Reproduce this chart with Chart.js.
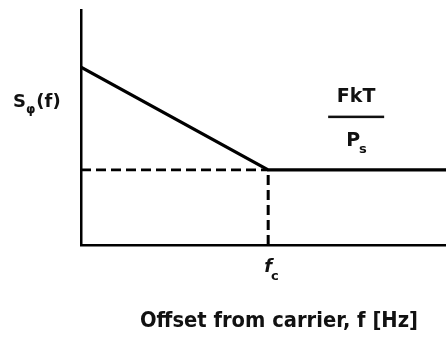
<!DOCTYPE html>
<html>
<head>
<meta charset="utf-8">
<script src="https://cdn.jsdelivr.net/npm/chart.js@4/dist/chart.umd.min.js"></script>
<style>
  html, body { margin: 0; padding: 0; background: #fff; }
  #wrap { width: 446px; height: 343px; position: relative; }
</style>
</head>
<body>
<div id="wrap"><canvas id="c"></canvas></div>
<script>
// Phase-noise spectral density sketch: falls linearly to the corner
// frequency f_c, then flat at the thermal floor FkT/Ps.
const offsetFreq = [0, 1, 1.95];          // offset from carrier, in units of f_c
const phaseNoise = [2.37, 1, 1];          // S_phi(f), relative
const floorFreq = [0, 1];                 // dashed extension of the floor
const floorLevel = [1, 1];
const cornerFreq = [1, 1];                // dashed drop at f_c
const cornerLevel = [0, 1];
const xTicks = [1];
const xTickLabels = ['f', 'c'];           // f with subscript c
const xMax = 1.95;
const yMax = 3.13;

const toPts = (xs, ys) => xs.map((x, i) => ({ x: x, y: ys[i] }));

const labelPlugin = {
  id: 'sketchLabels',
  afterDraw(chart) {
    const { ctx, scales } = chart;
    const xs = scales.x, ys = scales.y;
    ctx.save();
    ctx.fillStyle = '#111';
    ctx.textBaseline = 'alphabetic';

    // y-axis label S_phi(f)
    ctx.textAlign = 'left';
    ctx.font = 'bold 18px "DejaVu Sans"';
    let x0 = 13, by = 107;
    ctx.fillText('S', x0, by);
    x0 += ctx.measureText('S').width;
    ctx.font = 'bold 12px "DejaVu Sans"';
    ctx.fillText('φ', x0, by + 6);
    x0 += ctx.measureText('φ').width + 1;
    ctx.font = 'bold 18px "DejaVu Sans"';
    ctx.fillText('(f)', x0, by);

    // x tick label f_c
    xTicks.forEach(v => {
      const px = xs.getPixelForValue(v);
      ctx.font = 'italic bold 18px "DejaVu Sans"';
      ctx.textAlign = 'left';
      const w = ctx.measureText(xTickLabels[0]).width;
      ctx.fillText(xTickLabels[0], px - 4, 272);
      ctx.font = 'bold 13px "DejaVu Sans"';
      ctx.fillText(xTickLabels[1], px - 4 + w - 1, 280);
    });

    // floor level annotation FkT / Ps
    const fx = xs.getPixelForValue(1.47);
    const fy = ys.getPixelForValue(1.71);
    ctx.textAlign = 'center';
    ctx.font = 'bold 19px "DejaVu Sans"';
    ctx.fillText('FkT', fx, fy - 15);
    ctx.fillRect(fx - 28, fy - 1, 56, 2.5);
    ctx.textAlign = 'left';
    ctx.font = 'bold 19px "DejaVu Sans"';
    const pw = ctx.measureText('P').width;
    ctx.fillText('P', fx - 10, fy + 29);
    ctx.font = 'bold 13px "DejaVu Sans"';
    ctx.fillText('s', fx - 10 + pw - 1, fy + 36);

    // x-axis title
    const title = 'Offset from carrier, f [Hz]';
    ctx.font = 'bold 21px "DejaVu Sans"';
    const tw = ctx.measureText(title).width;
    const target = 278;
    ctx.translate(140, 327);
    ctx.scale(target / tw, 1);
    ctx.textAlign = 'left';
    ctx.fillText(title, 0, 0);
    ctx.restore();
  }
};

new Chart(document.getElementById('c'), {
  type: 'line',
  data: {
    datasets: [
      {
        data: toPts(offsetFreq, phaseNoise),
        borderColor: '#000', borderWidth: 3.2,
        pointRadius: 0, tension: 0
      },
      {
        data: toPts(floorFreq, floorLevel),
        borderColor: '#000', borderWidth: 2.6, borderDash: [10, 5],
        pointRadius: 0, tension: 0
      },
      {
        data: toPts(cornerFreq, cornerLevel),
        borderColor: '#000', borderWidth: 3, borderDash: [10, 5],
        pointRadius: 0, tension: 0
      }
    ]
  },
  options: {
    responsive: true,
    maintainAspectRatio: false,
    animation: false,
    layout: { padding: { left: 81, top: 10, right: 0, bottom: 98 } },
    plugins: { legend: { display: false }, tooltip: { enabled: false } },
    scales: {
      x: {
        type: 'linear', min: 0, max: xMax,
        grid: { display: false, drawTicks: false },
        border: { display: true, color: '#000', width: 2.5 },
        ticks: { display: false },
        afterFit: s => { s.height = 0; }
      },
      y: {
        type: 'linear', min: 0, max: yMax,
        grid: { display: false, drawTicks: false },
        border: { display: true, color: '#000', width: 2.5 },
        ticks: { display: false },
        afterFit: s => { s.width = 0; }
      }
    }
  },
  plugins: [labelPlugin]
});
</script>
</body>
</html>
